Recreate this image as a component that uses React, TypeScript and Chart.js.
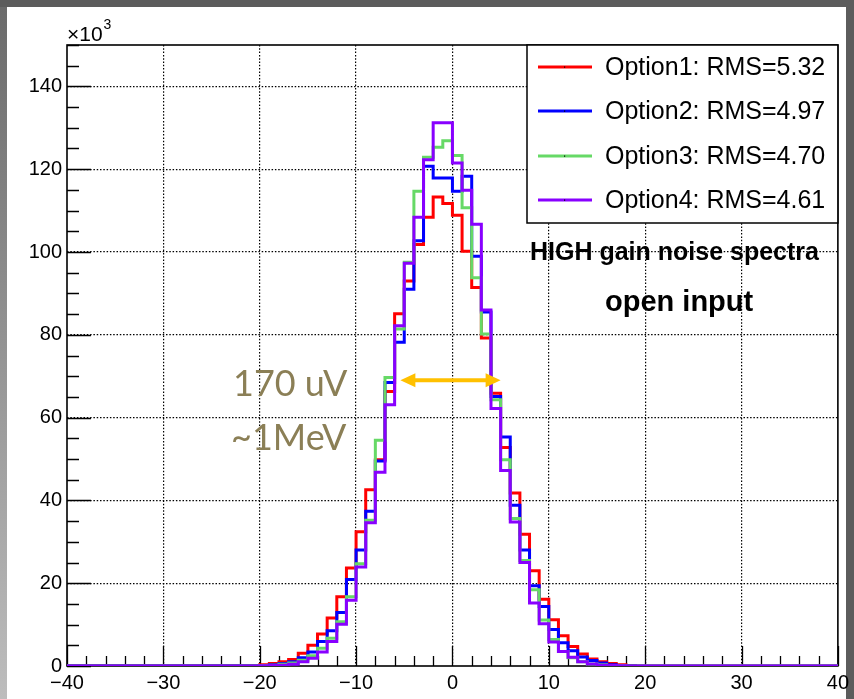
import React, { useEffect, useRef } from 'react';
import { Chart, registerables } from 'chart.js';

Chart.register(...registerables);

// Histogram: bins of width 1, first listed bin starts at BIN_START; all other bins in [-40, 40] are empty.
const BIN_START = -20;
const X_MIN = -40;
const X_MAX = 40;
const Y_MAX = 150;
const X_TICKS = [-40, -30, -20, -10, 0, 10, 20, 30, 40];
const Y_TICKS = [0, 20, 40, 60, 80, 100, 120, 140];

const SERIES_LABELS = [
  'Option1: RMS=5.32',
  'Option2: RMS=4.97',
  'Option3: RMS=4.70',
  'Option4: RMS=4.61',
];

// counts (x10^3), bins -20 .. 19
const OPTION1 = [
  0.1, 0.3, 0.6, 1.0, 1.6, 3.1, 5.0, 7.7, 11.6, 16.7,
  23.7, 32.4, 42.6, 49.8, 66.3, 85.1, 93.0, 101.8, 108.4, 113.3,
  111.7, 108.9, 100.2, 91.4, 79.2, 65.9, 52.8, 41.8, 31.8, 23.0,
  16.1, 11.2, 7.3, 4.7, 2.9, 1.7, 1.0, 0.6, 0.3, 0.1,
];
const OPTION2 = [
  0.05, 0.15, 0.3, 0.6, 1.0, 2.0, 3.4, 5.9, 8.5, 12.9,
  20.9, 28.0, 37.4, 49.5, 68.5, 78.2, 91.0, 102.7, 120.7, 117.9,
  117.9, 114.7, 118.3, 99.0, 85.5, 65.1, 55.3, 38.8, 28.0, 19.4,
  14.4, 8.8, 5.6, 3.7, 2.2, 1.3, 0.7, 0.3, 0.15, 0.05,
];
const OPTION3 = [
  0.0, 0.05, 0.2, 0.4, 0.7, 1.4, 2.5, 4.3, 6.7, 10.7,
  16.7, 24.7, 35.2, 54.5, 69.7, 81.4, 97.5, 114.7, 122.9, 125.3,
  126.9, 123.3, 110.7, 93.8, 80.2, 64.3, 49.8, 35.6, 25.5, 18.4,
  11.1, 6.4, 3.5, 2.0, 1.0, 0.5, 0.3, 0.1, 0.05, 0.0,
];
const OPTION4 = [
  0.0, 0.05, 0.1, 0.2, 0.4, 1.0, 1.9, 3.4, 5.9, 10.1,
  15.9, 23.9, 34.6, 46.8, 63.1, 82.2, 97.3, 108.4, 122.3, 131.2,
  131.2, 121.5, 114.9, 106.7, 86.0, 62.2, 47.2, 34.8, 25.0, 15.2,
  10.2, 5.8, 3.5, 2.1, 1.0, 0.5, 0.2, 0.1, 0.05, 0.0,
];

const SERIES = [OPTION1, OPTION2, OPTION3, OPTION4];
const COLORS = ['#ff0000', '#0000ff', '#66d966', '#8800ff'];

// FWHM annotation (arrow) in data units
const ARROW_X = [-5.4, 5.0];
const ARROW_Y = 69;

const FONT = '"Liberation Sans", Arial, sans-serif';

function histPoints(values: number[]) {
  const pts: { x: number; y: number }[] = [{ x: X_MIN, y: 0 }];
  values.forEach((v, i) => pts.push({ x: BIN_START + i, y: v }));
  pts.push({ x: BIN_START + values.length, y: 0 });
  pts.push({ x: X_MAX, y: 0 });
  return pts;
}

const fmt = (v: number) => (v < 0 ? '\u2212' + Math.abs(v) : String(v));

const decor = {
  id: 'decor',
  beforeDraw(chart: any) {
    const { ctx, width, height } = chart;
    ctx.save();
    ctx.fillStyle = '#5c5c5c';
    ctx.fillRect(0, 0, width, height);
    const g = ctx.createLinearGradient(0, 0, 0, height);
    g.addColorStop(0, '#6a6a6a');
    g.addColorStop(1, '#bdbdbd');
    ctx.fillStyle = g;
    ctx.fillRect(0, 7, 7, height - 7);
    ctx.fillStyle = '#ffffff';
    ctx.fillRect(7, 7, 839, height - 7);
    ctx.restore();
  },
  beforeDatasetsDraw(chart: any) {
    const { ctx, chartArea: a } = chart;
    const xs = chart.scales.x;
    const ys = chart.scales.y;
    ctx.save();
    ctx.strokeStyle = '#000';
    ctx.lineWidth = 1.3;
    ctx.beginPath();
    for (let v = X_MIN; v <= X_MAX; v += 2) {
      const px = Math.round(xs.getPixelForValue(v)) + 0.5;
      const len = v % 10 === 0 ? 20 : 10;
      ctx.moveTo(px, a.bottom);
      ctx.lineTo(px, a.bottom - len);
    }
    for (let v = 0; v <= Y_MAX; v += 5) {
      const py = Math.round(ys.getPixelForValue(v)) + 0.5;
      const len = v % 20 === 0 ? 24 : 12;
      ctx.moveTo(a.left, py);
      ctx.lineTo(a.left + len, py);
    }
    ctx.stroke();
    ctx.lineWidth = 1.6;
    ctx.strokeRect(a.left, a.top, a.right - a.left, a.bottom - a.top);
    ctx.restore();
  },
  afterDatasetsDraw(chart: any) {
    const { ctx, chartArea: a } = chart;
    const xs = chart.scales.x;
    const ys = chart.scales.y;
    ctx.save();

    // x10^3 exponent label
    ctx.fillStyle = '#000';
    ctx.textBaseline = 'alphabetic';
    ctx.textAlign = 'left';
    ctx.font = `21px ${FONT}`;
    ctx.fillText('\u00d710', a.left, 41);
    const w = ctx.measureText('\u00d710').width;
    ctx.font = `14px ${FONT}`;
    ctx.fillText('3', a.left + w + 1, 29);

    // legend
    const lx = 527, ly = 45, lw = a.right - 527, lh = 178;
    ctx.fillStyle = '#fff';
    ctx.fillRect(lx, ly, lw, lh);
    ctx.strokeStyle = '#000';
    ctx.lineWidth = 1.5;
    ctx.strokeRect(lx, ly, lw, lh);
    const rows = [67, 111, 156, 200];
    chart.data.datasets.forEach((ds: any, i: number) => {
      const y = rows[i];
      ctx.strokeStyle = ds.borderColor;
      ctx.lineWidth = 3;
      ctx.beginPath();
      ctx.moveTo(538, y);
      ctx.lineTo(592, y);
      ctx.stroke();
      ctx.fillStyle = '#000';
      ctx.fillRect(564, y - 0.5, 1.2, 1.2);
      ctx.font = `25px ${FONT}`;
      ctx.textBaseline = 'middle';
      ctx.fillText(ds.label, 605, y + 1);
    });

    // annotations
    ctx.fillStyle = '#000';
    ctx.textBaseline = 'middle';
    ctx.font = `bold 25px ${FONT}`;
    ctx.fillText('HIGH gain noise spectra', 530, 253);
    ctx.font = `bold 29px ${FONT}`;
    ctx.fillText('open input', 605, 303);

    ctx.fillStyle = '#8b7f56';
    ctx.font = `36px Lato, "Open Sans", sans-serif`;
    ctx.fillText('170 uV', 233, 384);
    ctx.fillText('~1MeV', 231, 438);

    // FWHM arrow
    const x1 = xs.getPixelForValue(ARROW_X[0]);
    const x2 = xs.getPixelForValue(ARROW_X[1]);
    const y = ys.getPixelForValue(ARROW_Y);
    ctx.strokeStyle = '#ffc000';
    ctx.fillStyle = '#ffc000';
    ctx.lineWidth = 4;
    ctx.beginPath();
    ctx.moveTo(x1 + 10, y);
    ctx.lineTo(x2 - 10, y);
    ctx.stroke();
    ctx.beginPath();
    ctx.moveTo(x1, y);
    ctx.lineTo(x1 + 15, y - 7);
    ctx.lineTo(x1 + 15, y + 7);
    ctx.closePath();
    ctx.fill();
    ctx.beginPath();
    ctx.moveTo(x2, y);
    ctx.lineTo(x2 - 15, y - 7);
    ctx.lineTo(x2 - 15, y + 7);
    ctx.closePath();
    ctx.fill();
    ctx.restore();
  },
};

export default function App() {
  const ref = useRef<HTMLCanvasElement | null>(null);

  useEffect(() => {
    if (!ref.current) return;
    const chart = new Chart(ref.current, {
      type: 'line',
      data: {
        datasets: SERIES.map((vals, i) => ({
          label: SERIES_LABELS[i],
          data: histPoints(vals),
          borderColor: COLORS[i],
          backgroundColor: COLORS[i],
          borderWidth: 3,
          pointRadius: 0,
          stepped: 'after' as const,
          fill: false,
          order: SERIES.length - 1 - i,
          tension: 0,
        })),
      },
      options: {
        responsive: false,
        animation: false,
        devicePixelRatio: 1,
        parsing: false as any,
        normalized: true,
        layout: { padding: { left: 0, top: 45, right: 16, bottom: 0 } },
        plugins: {
          legend: { display: false },
          tooltip: { enabled: false },
        },
        scales: {
          x: {
            type: 'linear',
            min: X_MIN,
            max: X_MAX,
            afterBuildTicks: (s: any) => {
              s.ticks = X_TICKS.map((v) => ({ value: v }));
            },
            afterFit: (s: any) => {
              s.height = 33;
            },
            ticks: {
              color: '#000',
              font: { family: FONT, size: 20 },
              padding: 5,
              maxRotation: 0,
              autoSkip: false,
              callback: (v: any) => fmt(Number(v)),
            },
            grid: {
              drawTicks: false,
              lineWidth: 1.2,
              color: (c: any) =>
                c.tick && (c.tick.value === X_MIN || c.tick.value === X_MAX) ? 'rgba(0,0,0,0)' : '#000',
            },
            border: { display: false, dash: [1.5, 1.8] },
          },
          y: {
            type: 'linear',
            min: 0,
            max: Y_MAX,
            afterBuildTicks: (s: any) => {
              s.ticks = Y_TICKS.map((v) => ({ value: v }));
            },
            afterFit: (s: any) => {
              s.width = 67;
            },
            ticks: {
              color: '#000',
              font: { family: FONT, size: 20 },
              padding: 5,
              autoSkip: false,
              callback: (v: any) => String(v),
            },
            grid: {
              drawTicks: false,
              lineWidth: 1.2,
              color: (c: any) => (c.tick && c.tick.value === 0 ? 'rgba(0,0,0,0)' : '#000'),
            },
            border: { display: false, dash: [1.5, 1.8] },
          },
        },
      },
      plugins: [decor],
    });
    return () => chart.destroy();
  }, []);

  return (
    <canvas
      ref={ref}
      width={854}
      height={699}
      style={{ position: 'absolute', left: 0, top: 0, width: 854, height: 699 }}
    />
  );
}
